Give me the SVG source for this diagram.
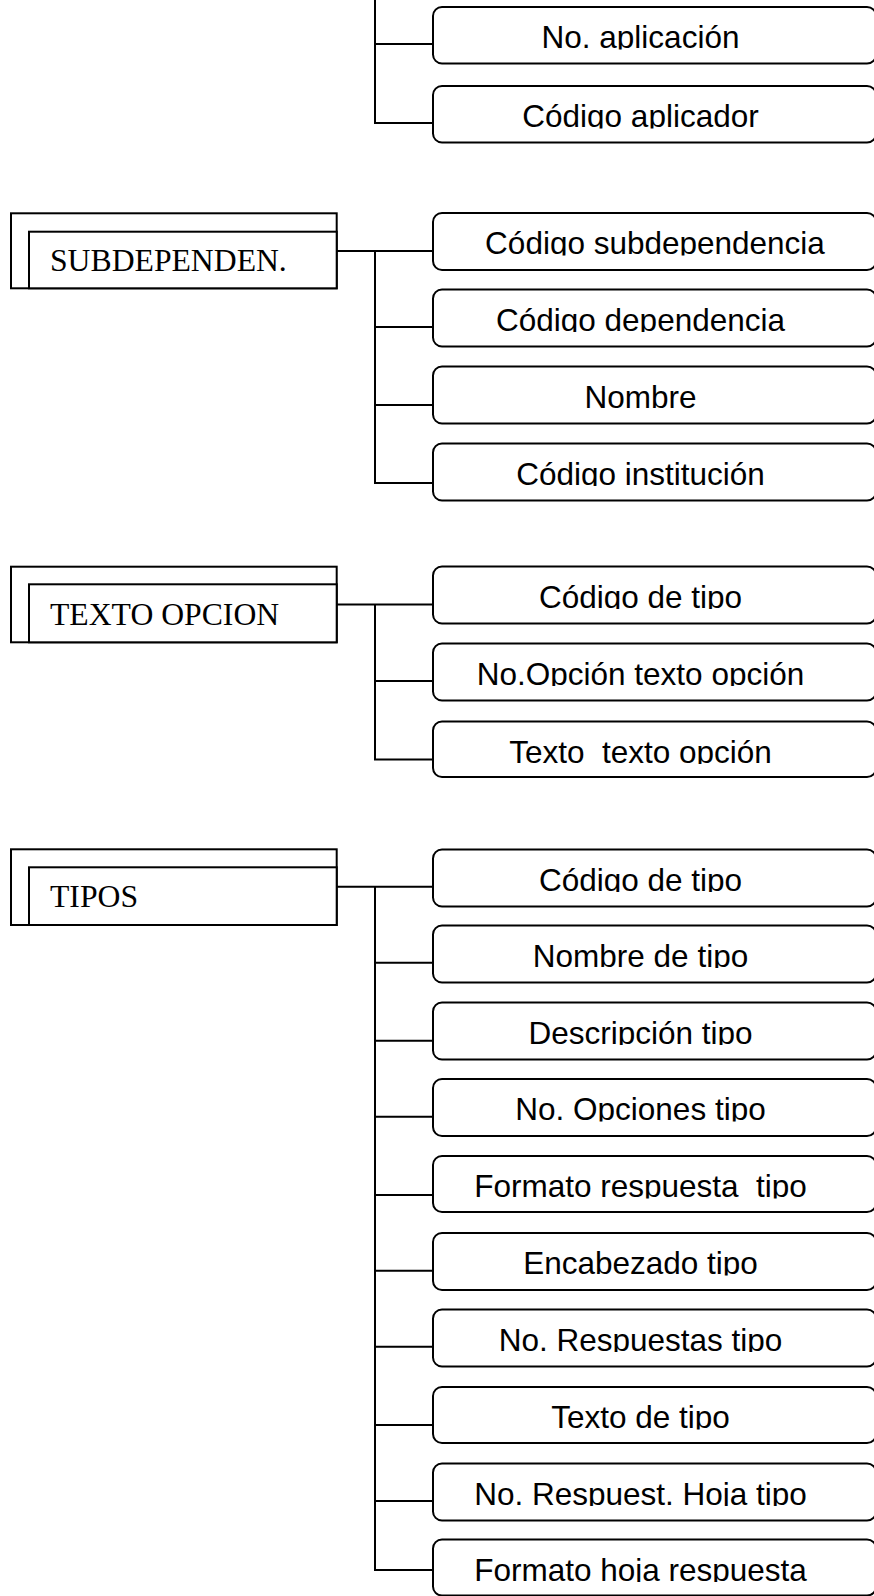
<svg xmlns="http://www.w3.org/2000/svg" width="874" height="1596" viewBox="0 0 874 1596">
<style>
.box{fill:#fff;stroke:#000;stroke-width:2}
.ent{fill:#fff;stroke:#000;stroke-width:2}
.con{fill:none;stroke:#000;stroke-width:2;stroke-linejoin:miter}
.lbl{font-family:"Liberation Sans",Arial,sans-serif;font-size:31.5px;fill:#000;text-anchor:middle;white-space:pre}
.elbl{font-family:"Liberation Serif","Times New Roman",serif;font-size:31.7px;fill:#000}
</style>
<defs>
<clipPath id="tc" clipPathUnits="userSpaceOnUse">
<rect x="433" y="7" width="441" height="42.5"/>
<rect x="433" y="86" width="441" height="42.5"/>
<rect x="433" y="213" width="441" height="42.5"/>
<rect x="433" y="289.5" width="441" height="42.5"/>
<rect x="433" y="366.5" width="441" height="42.5"/>
<rect x="433" y="443.5" width="441" height="42.5"/>
<rect x="433" y="566.5" width="441" height="42.5"/>
<rect x="433" y="643.5" width="441" height="42.5"/>
<rect x="433" y="721.5" width="441" height="42.5"/>
<rect x="433" y="849.5" width="441" height="42.5"/>
<rect x="433" y="925.5" width="441" height="42.5"/>
<rect x="433" y="1002.5" width="441" height="42.5"/>
<rect x="433" y="1079" width="441" height="42.5"/>
<rect x="433" y="1156" width="441" height="42.5"/>
<rect x="433" y="1233" width="441" height="42.5"/>
<rect x="433" y="1309.5" width="441" height="42.5"/>
<rect x="433" y="1387" width="441" height="42.5"/>
<rect x="433" y="1463.5" width="441" height="42.5"/>
<rect x="433" y="1539.5" width="441" height="42.5"/>
</clipPath>
</defs>

<g id="connectors">
<path class="con" d="M375,0 V123 H433 M375,44 H433"/>
<path class="con" d="M336.7,251 H433 M375,251 V483 H433 M375,327 H433 M375,405 H433"/>
<path class="con" d="M336.7,604.5 H433 M375,604.5 V759.5 H433 M375,681 H433"/>
<path class="con" d="M336.7,886.7 H433 M375,886.7 V1570 H433 M375,962.7 H433 M375,1040.7 H433 M375,1116.7 H433 M375,1195 H433 M375,1270.7 H433 M375,1346.7 H433 M375,1425 H433 M375,1501 H433"/>
</g>

<g id="e-subdependen">
<rect class="ent" x="11" y="213.3" width="325.7" height="75"/>
<rect class="ent" x="29" y="231.7" width="307.7" height="56.6"/>
<text class="elbl" x="50" y="271">SUBDEPENDEN.</text>
</g>
<g id="e-texto-opcion">
<rect class="ent" x="11" y="566.7" width="325.7" height="75.6"/>
<rect class="ent" x="29" y="584.3" width="307.7" height="58"/>
<text class="elbl" x="50" y="625">TEXTO OPCION</text>
</g>
<g id="e-tipos">
<rect class="ent" x="11" y="849.3" width="325.7" height="75.7"/>
<rect class="ent" x="29" y="867.3" width="307.7" height="57.7"/>
<text class="elbl" x="50" y="907.3">TIPOS</text>
</g>

<g id="a-no-aplicacion"><rect class="box" x="433" y="7" width="443" height="56.5" rx="9"/><text class="lbl" x="640.5" y="48" clip-path="url(#tc)">No. aplicación</text></g>
<g id="a-codigo-aplicador"><rect class="box" x="433" y="86" width="443" height="56.5" rx="9"/><text class="lbl" x="640.5" y="127" clip-path="url(#tc)">Código aplicador</text></g>

<g id="s-codigo-subdependencia"><rect class="box" x="433" y="213" width="443" height="57" rx="9"/><text class="lbl" x="655" y="254" clip-path="url(#tc)">Código subdependencia</text></g>
<g id="s-codigo-dependencia"><rect class="box" x="433" y="289.5" width="443" height="57" rx="9"/><text class="lbl" x="640.5" y="330.5" clip-path="url(#tc)">Código dependencia</text></g>
<g id="s-nombre"><rect class="box" x="433" y="366.5" width="443" height="57" rx="9"/><text class="lbl" x="640.5" y="407.5" clip-path="url(#tc)">Nombre</text></g>
<g id="s-codigo-institucion"><rect class="box" x="433" y="443.5" width="443" height="57" rx="9"/><text class="lbl" x="640.5" y="484.5" clip-path="url(#tc)">Código institución</text></g>

<g id="t-codigo-tipo"><rect class="box" x="433" y="566.5" width="443" height="57" rx="9"/><text class="lbl" x="640.5" y="607.5" clip-path="url(#tc)">Código de tipo</text></g>
<g id="t-no-opcion"><rect class="box" x="433" y="643.5" width="443" height="57" rx="9"/><text class="lbl" x="640.5" y="684.5" clip-path="url(#tc)">No.Opción texto opción</text></g>
<g id="t-texto"><rect class="box" x="433" y="721.5" width="443" height="55.5" rx="9"/><text class="lbl" x="640.5" y="762.5" clip-path="url(#tc)" xml:space="preserve">Texto  texto opción</text></g>

<g id="p-codigo-tipo"><rect class="box" x="433" y="849.5" width="443" height="57" rx="9"/><text class="lbl" x="640.5" y="890.5" clip-path="url(#tc)">Código de tipo</text></g>
<g id="p-nombre-tipo"><rect class="box" x="433" y="925.5" width="443" height="57" rx="9"/><text class="lbl" x="640.5" y="966.5" clip-path="url(#tc)">Nombre de tipo</text></g>
<g id="p-descripcion"><rect class="box" x="433" y="1002.5" width="443" height="57" rx="9"/><text class="lbl" x="640.5" y="1043.5" clip-path="url(#tc)">Descripción tipo</text></g>
<g id="p-no-opciones"><rect class="box" x="433" y="1079" width="443" height="57" rx="9"/><text class="lbl" x="640.5" y="1120" clip-path="url(#tc)">No. Opciones tipo</text></g>
<g id="p-formato-respuesta"><rect class="box" x="433" y="1156" width="443" height="56" rx="9"/><text class="lbl" x="640.5" y="1197" clip-path="url(#tc)" xml:space="preserve">Formato respuesta  tipo</text></g>
<g id="p-encabezado"><rect class="box" x="433" y="1233" width="443" height="57" rx="9"/><text class="lbl" x="640.5" y="1274" clip-path="url(#tc)">Encabezado tipo</text></g>
<g id="p-no-respuestas"><rect class="box" x="433" y="1309.5" width="443" height="57" rx="9"/><text class="lbl" x="640.5" y="1350.5" clip-path="url(#tc)">No. Respuestas tipo</text></g>
<g id="p-texto-tipo"><rect class="box" x="433" y="1387" width="443" height="56" rx="9"/><text class="lbl" x="640.5" y="1428" clip-path="url(#tc)">Texto de tipo</text></g>
<g id="p-no-respuest-hoja"><rect class="box" x="433" y="1463.5" width="443" height="57" rx="9"/><text class="lbl" x="640.5" y="1504.5" clip-path="url(#tc)">No. Respuest. Hoja tipo</text></g>
<g id="p-formato-hoja"><rect class="box" x="433" y="1539.5" width="443" height="56" rx="9"/><text class="lbl" x="640.5" y="1580.5" clip-path="url(#tc)">Formato hoja respuesta</text></g>
</svg>
